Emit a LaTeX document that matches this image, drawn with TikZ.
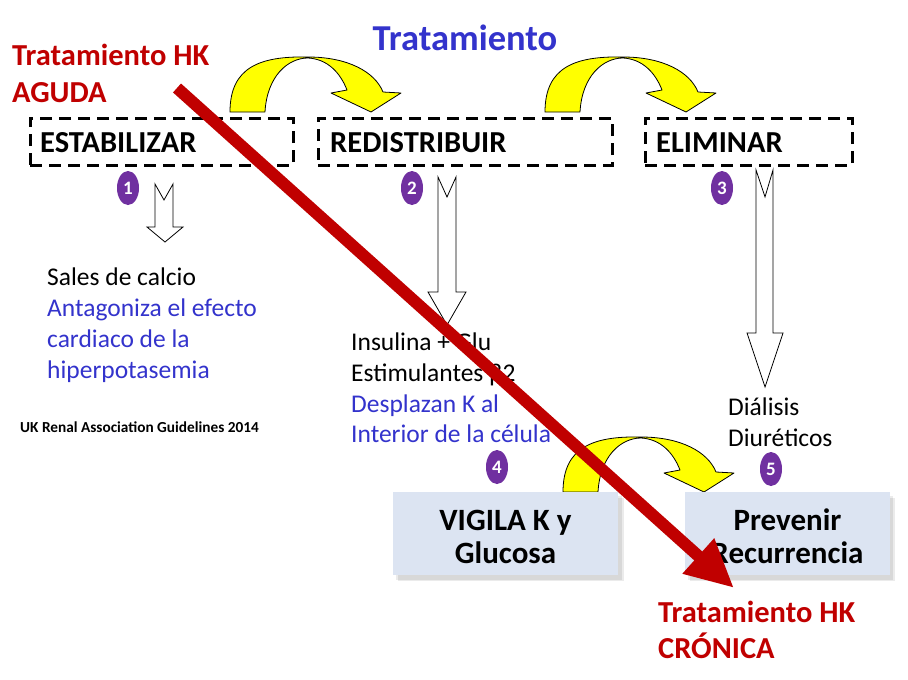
\documentclass[tikz,border=0pt]{standalone}
\usepackage{fontspec}
\setmainfont{Carlito}
\usetikzlibrary{arrows.meta,shapes.geometric}
\definecolor{hkred}{RGB}{192,0,0}
\definecolor{hkblue}{RGB}{51,51,204}
\definecolor{hkpurple}{RGB}{112,48,160}
\definecolor{hkbox}{RGB}{220,228,242}
\definecolor{hkyellow}{RGB}{255,255,0}
\tikzset{
  stagebox/.style={draw=black, line width=3pt, dash pattern=on 12pt off 7pt, inner sep=0pt},
  stagetext/.style={anchor=base west, inner sep=0pt, font=\fontsize{30.5}{36}\selectfont\bfseries},
  numdot/.style={ellipse, fill=hkpurple, minimum width=22pt, minimum height=34pt, inner sep=0pt, text=white, font=\fontsize{19}{19}\selectfont\bfseries},
  hollow/.style={draw=black, line width=0.8pt, fill=white},
  curved/.style={draw=black, line width=0.8pt, fill=hkyellow, line join=round},
  bodytext/.style={anchor=base west, inner sep=0pt, font=\fontsize{25.5}{31}\selectfont},
  bodyblue/.style={bodytext, text=hkblue},
  redtitle/.style={anchor=base west, inner sep=0pt, text=hkred, font=\fontsize{30.5}{36}\selectfont\bfseries},
  actbox/.style={fill=hkbox, inner sep=0pt},
  acttext/.style={anchor=base, inner sep=0pt, font=\fontsize{31}{36}\selectfont\bfseries},
  bigred/.style={draw=hkred, line width=12pt, -{Triangle[length=48pt,width=44pt]}},
  shadowfill/.style={fill=black, opacity=0.08},
}
\newcommand\hkcurve[2]{%
  \begin{scope}[shift={(#1,#2)}]
    \draw[curved] (0,0) .. controls (0,-45) and (30,-56) .. (78,-55)
      .. controls (118,-55) and (145,-40) .. (153,-20)
      -- (171,-19) -- (141,0) -- (101,-19) -- (117,-22)
      .. controls (110,-40) and (97,-53) .. (78,-54)
      .. controls (58,-54) and (37,-36) .. (35,0) -- cycle;
  \end{scope}}
\begin{document}
\begin{tikzpicture}[x=1pt,y=-1pt]
\useasboundingbox (0,0) rectangle (908,680);
\fill[white] (0,0) rectangle (908,680);

% titles
\node[anchor=base, inner sep=0pt, text=hkblue, font=\fontsize{36.5}{40}\selectfont\bfseries] (title) at (465,50) {Tratamiento};
\node[redtitle] (ag1) at (12,65) {Tratamiento HK};
\node[redtitle] (ag2) at (12,102) {AGUDA};

% yellow curved arrows
\hkcurve{230}{112}
\hkcurve{545}{112}
\hkcurve{563}{492}

% stage boxes
\node[stagebox, minimum width=263pt, minimum height=47pt] (s1) at (161.5,141.5) {};
\node[stagebox, minimum width=294pt, minimum height=47pt] (s2) at (465,141.5) {};
\node[stagebox, minimum width=207pt, minimum height=47pt] (s3) at (748.5,141.5) {};
\node[stagetext] (t1) at (40,152) {ESTABILIZAR};
\node[stagetext] (t2) at (330,152) {REDISTRIBUIR};
\node[stagetext] (t3) at (656,152) {ELIMINAR};

% numbers
\node[numdot] (n1) at (128,188) {1};
\node[numdot] (n2) at (412,188) {2};
\node[numdot] (n3) at (722,188) {3};
\node[numdot] (n4) at (497,467) {4};
\node[numdot] (n5) at (771,469) {5};

% hollow arrows
\draw[hollow] (155,184) -- (164,200) -- (173,184) -- (173,227) -- (183,227) -- (165,242) -- (147,227) -- (155,227) -- cycle;
\draw[hollow] (438,177) -- (447,197) -- (456,177) -- (456,292) -- (466,292) -- (447,325) -- (428,292) -- (438,292) -- cycle;
\draw[hollow] (756,170) -- (765,197) -- (773,170) -- (773,333) -- (783,333) -- (765,387) -- (747,333) -- (756,333) -- cycle;

% texts column 1
\node[bodytext] (c1a) at (47,285) {Sales de calcio};
\node[bodyblue] (c1b) at (47,316) {Antagoniza el efecto};
\node[bodyblue] (c1c) at (47,347) {cardiaco de la};
\node[bodyblue] (c1d) at (47,378) {hiperpotasemia};
\node[anchor=base west, inner sep=0pt, font=\fontsize{15.3}{18}\selectfont\bfseries] (uk) at (20,432) {UK Renal Association Guidelines 2014};

% texts column 2
\node[bodytext] (c2a) at (351,350) {Insulina + Glu};
\node[bodytext] (c2b) at (351,381) {Estimulantes β2};
\node[bodyblue] (c2c) at (351,412) {Desplazan K al};
\node[bodyblue] (c2d) at (351,442) {Interior de la célula};

% texts column 3
\node[bodytext] (c3a) at (728,415) {Diálisis};
\node[bodytext] (c3b) at (728,446) {Diuréticos};

% action boxes
\fill[shadowfill] (396,496) rectangle (622,580);
\fill[shadowfill] (398,498) rectangle (624,581);
\fill[shadowfill] (688,496) rectangle (893,580);
\fill[shadowfill] (690,498) rectangle (895,581);
\node[actbox, minimum width=225pt, minimum height=83pt] (b4) at (505.5,533.5) {};
\node[actbox, minimum width=205pt, minimum height=83pt] (b5) at (787.5,533.5) {};
\node[acttext] (b4a) at (505.5,530) {VIGILA K y};
\node[acttext] (b4b) at (505.5,563) {Glucosa};
\node[acttext] (b5a) at (787.5,530) {Prevenir};
\node[acttext] (b5b) at (787.5,563) {Recurrencia};

% chronic title
\node[redtitle] (cr1) at (658,622) {Tratamiento HK};
\node[redtitle] (cr2) at (658,658) {CRÓNICA};

% big red arrow
\coordinate (rs) at (177,88);
\coordinate (re) at (734,588);
\draw[bigred] (rs) -- (re);
\end{tikzpicture}
\end{document}
